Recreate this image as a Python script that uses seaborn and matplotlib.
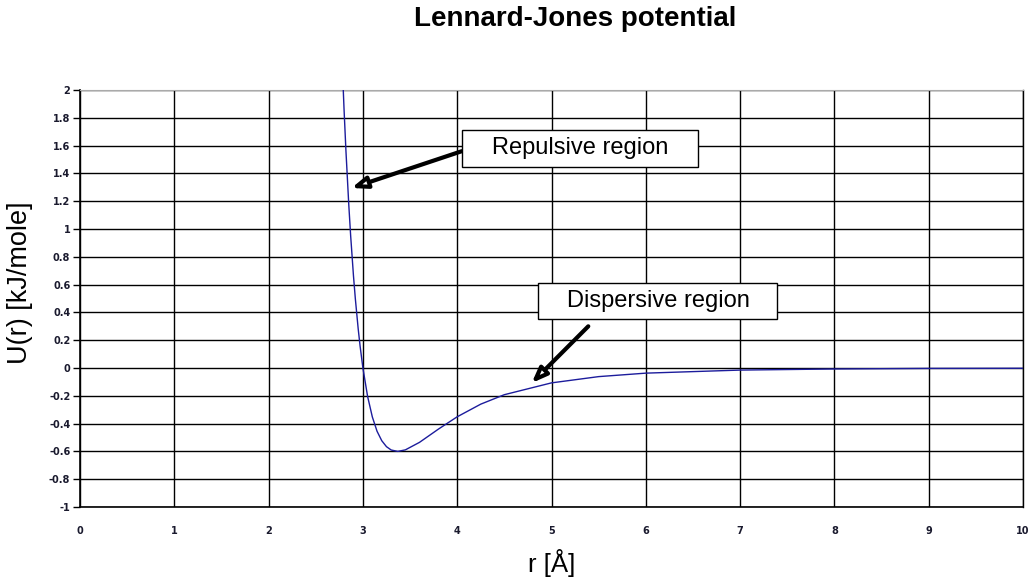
import matplotlib
matplotlib.use("Agg")
import matplotlib.pyplot as plt
import matplotlib.ticker as mticker
from matplotlib.patches import Rectangle
import seaborn as sns
import pandas as pd

# Data
r_values = [2.79, 2.80, 2.82, 2.85, 2.87, 2.90, 2.92, 2.95, 2.97, 3.00, 3.05, 3.10,
            3.15, 3.20, 3.25, 3.30, 3.37, 3.45, 3.60, 3.80, 4.00, 4.25, 4.50,
            5.00, 5.50, 6.00, 7.00, 8.00, 9.00, 10.00]
u_values = [2.03, 1.862, 1.564, 1.177, 0.953, 0.663, 0.497, 0.282, 0.159, 0.0, -0.205, -0.352,
            -0.455, -0.523, -0.566, -0.590, -0.600, -0.589, -0.535, -0.440, -0.351, -0.260, -0.192,
            -0.107, -0.062, -0.037, -0.015, -0.007, -0.003, -0.002]
x_ticks = [0, 1, 2, 3, 4, 5, 6, 7, 8, 9, 10]
y_ticks = [-1, -0.8, -0.6, -0.4, -0.2, 0, 0.2, 0.4, 0.6, 0.8, 1, 1.2, 1.4, 1.6, 1.8, 2]
title_text = "Lennard-Jones potential"
x_label = "r [Å]"
y_label = "U(r) [kJ/mole]"
ann_repulsive = "Repulsive region"
ann_dispersive = "Dispersive region"

df = pd.DataFrame({"r": r_values, "U": u_values})

sns.set_style("white")
plt.rcParams["font.family"] = ["Liberation Sans", "DejaVu Sans"]
plt.rcParams["text.color"] = "black"
plt.rcParams["axes.labelcolor"] = "black"

fig = plt.figure(figsize=(10.30, 5.78), dpi=100)
ax = fig.add_axes([80 / 1030, 1 - 507 / 578, (1023 - 80) / 1030, (507 - 90) / 578])

sns.lineplot(data=df, x="r", y="U", ax=ax, color="#1c1c9c", linewidth=1.0, sort=False, zorder=4)

ax.set_xlim(0, 10)
ax.set_ylim(-1, 2)
ax.set_xticks(x_ticks)
ax.set_yticks(y_ticks)
ax.xaxis.set_major_formatter(mticker.FuncFormatter(lambda v, p: f"{v:g}"))
ax.yaxis.set_major_formatter(mticker.FuncFormatter(lambda v, p: f"{v:g}"))
ax.grid(True, color="black", linewidth=1.0)
ax.set_axisbelow(True)
ax.tick_params(axis="y", which="major", length=5, width=1.0, pad=2,
               direction="out", colors="black", left=True)
ax.tick_params(axis="x", which="major", length=0, pad=14, colors="black", bottom=True)
for lab in ax.get_xticklabels() + ax.get_yticklabels():
    lab.set_fontsize(7)
    lab.set_fontweight("bold")
    lab.set_family(["DejaVu Sans"])
    lab.set_color("#1a1a2e")
for side in ["left", "bottom"]:
    ax.spines[side].set_color("black")
    ax.spines[side].set_linewidth(1.2)
ax.spines["top"].set_color("#aaaaaa")
ax.spines["top"].set_linewidth(0.8)
ax.spines["right"].set_color("black")
ax.spines["right"].set_linewidth(1.0)

ax.set_xlabel(x_label, fontsize=18.5, va="center")
ax.set_ylabel(y_label, fontsize=19.5, va="center")
ax.xaxis.set_label_coords((552 - 80) / 943, -(563 - 507) / 417)
ax.yaxis.set_label_coords(-(80 - 20) / 943, (507 - 283) / 417)
fig.text(575 / 1030, 1 - 19 / 578, title_text, fontsize=20, fontweight="bold",
         ha="center", va="center", color="black")

# Annotation boxes
ax.add_patch(Rectangle((4.05, 1.446), 6.55 - 4.05, 1.712 - 1.446, facecolor="white",
                       edgecolor="black", linewidth=1.0, zorder=6))
ax.text(5.30, 1.583, ann_repulsive, fontsize=17, ha="center", va="center", zorder=7)
ax.add_patch(Rectangle((4.86, 0.353), 7.39 - 4.86, 0.612 - 0.353, facecolor="white",
                       edgecolor="black", linewidth=1.0, zorder=6))
ax.text(6.13, 0.482, ann_dispersive, fontsize=17, ha="center", va="center", zorder=7)

arrow_style = dict(arrowstyle="-|>,head_length=0.9,head_width=0.35", facecolor="white",
                   edgecolor="black", linewidth=3, shrinkA=0, shrinkB=0)
ax.annotate("", xy=(2.88, 1.295), xytext=(4.05, 1.56), arrowprops=arrow_style, zorder=5)
ax.annotate("", xy=(4.79, -0.108), xytext=(5.39, 0.30), arrowprops=arrow_style, zorder=5)

fig.savefig("out.png", dpi=100)
